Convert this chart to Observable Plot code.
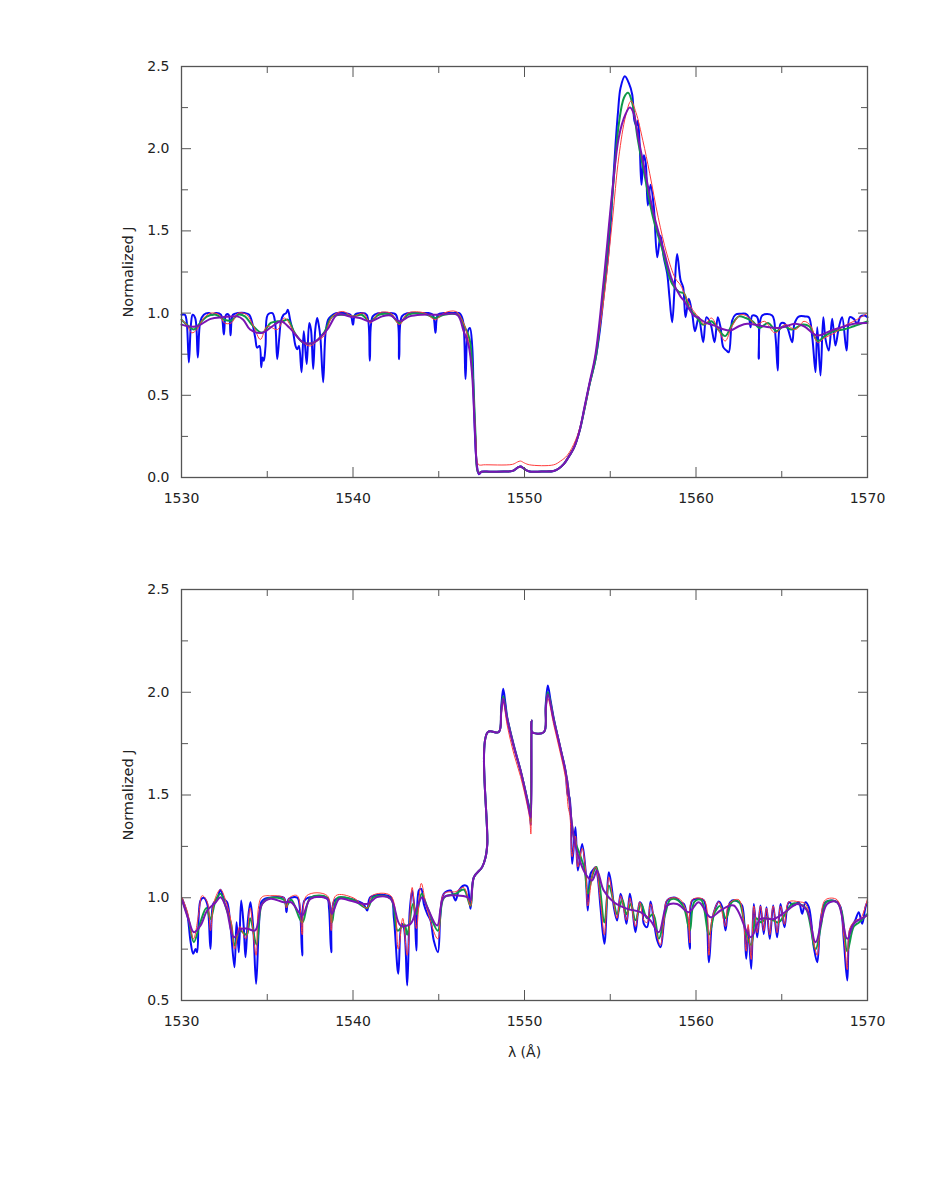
<!DOCTYPE html>
<html><head><meta charset="utf-8">
<script src="https://cdn.jsdelivr.net/npm/d3@7"></script>
<script src="https://cdn.jsdelivr.net/npm/@observablehq/plot@0.6"></script>
<style>
html,body{margin:0;padding:0;background:#fff;}
#chart{position:relative;width:926px;height:1199px;}
#chart svg{display:block;}
</style></head><body><div id="chart"></div>
<script>
// ---------- DATA (wavelength in Å, normalized J) ----------
const xTicksMajor = [1530, 1540, 1550, 1560, 1570];
const xTicksMinor = [1535, 1545, 1555, 1565];
const yTicksTopMajor = [0, 0.5, 1.0, 1.5, 2.0, 2.5];
const yTicksTopMinor = [0.25, 0.75, 1.25, 1.75, 2.25];
const yTicksBotMajor = [0.5, 1.0, 1.5, 2.0, 2.5];
const yTicksBotMinor = [0.75, 1.25, 1.75, 2.25];

const topBlue = [[1530.0,0.99],[1530.2,0.99],[1530.3,0.95],[1530.43,0.70],[1530.55,0.93],[1530.65,0.99],[1530.8,0.97],[1530.95,0.73],[1531.1,0.95],[1531.3,0.99],[1531.6,1.00],[1531.8,0.99],[1532.0,1.00],[1532.3,0.99],[1532.47,0.87],[1532.6,0.99],[1532.75,0.99],[1532.86,0.865],[1533.0,0.99],[1533.3,1.00],[1533.7,1.00],[1533.95,0.99],[1534.1,0.95],[1534.3,0.85],[1534.41,0.79],[1534.55,0.80],[1534.65,0.67],[1534.72,0.73],[1534.8,0.71],[1534.9,0.80],[1535.03,0.99],[1535.3,1.00],[1535.45,0.95],[1535.58,0.72],[1535.7,0.85],[1535.8,0.95],[1535.95,0.99],[1536.1,1.00],[1536.2,1.02],[1536.35,0.95],[1536.5,0.89],[1536.65,0.80],[1536.75,0.78],[1536.85,0.80],[1537.0,0.64],[1537.13,0.89],[1537.3,0.69],[1537.45,0.94],[1537.55,0.90],[1537.68,0.66],[1537.8,0.90],[1537.91,0.97],[1538.0,0.93],[1538.1,0.85],[1538.26,0.58],[1538.4,0.88],[1538.55,0.96],[1538.7,0.98],[1539.0,1.00],[1539.5,1.00],[1539.85,0.99],[1540.0,0.93],[1540.12,0.99],[1540.5,1.00],[1540.8,0.99],[1540.98,0.71],[1541.15,0.98],[1541.5,1.00],[1542.0,1.00],[1542.5,0.99],[1542.69,0.72],[1542.85,0.98],[1543.2,1.00],[1543.8,1.00],[1544.4,1.00],[1544.65,0.99],[1544.81,0.88],[1544.95,0.99],[1545.3,1.00],[1545.8,1.00],[1546.2,1.00],[1546.4,0.96],[1546.56,0.60],[1546.7,0.89],[1546.82,0.91],[1546.95,0.80],[1547.05,0.45],[1547.2,0.10],[1547.34,0.02],[1547.5,0.035],[1548.0,0.035],[1548.8,0.036],[1549.3,0.04],[1549.6,0.06],[1549.77,0.067],[1549.95,0.055],[1550.3,0.036],[1551.0,0.037],[1551.7,0.04],[1552.0,0.055],[1552.3,0.083],[1552.6,0.13],[1552.88,0.18],[1553.2,0.28],[1553.5,0.42],[1553.8,0.57],[1554.14,0.72],[1554.4,0.90],[1554.63,1.12],[1554.85,1.32],[1555.01,1.52],[1555.16,1.78],[1555.31,2.03],[1555.45,2.22],[1555.6,2.37],[1555.85,2.44],[1556.08,2.40],[1556.28,2.33],[1556.41,2.17],[1556.53,2.14],[1556.61,2.17],[1556.72,2.01],[1556.82,1.78],[1556.96,1.96],[1557.07,1.91],[1557.19,1.655],[1557.35,1.78],[1557.54,1.645],[1557.74,1.34],[1557.93,1.47],[1558.12,1.34],[1558.32,1.24],[1558.45,1.10],[1558.61,0.945],[1558.75,1.15],[1558.90,1.36],[1559.10,1.20],[1559.25,1.157],[1559.39,0.975],[1559.58,1.087],[1559.78,0.995],[1559.94,0.89],[1560.16,0.975],[1560.42,0.823],[1560.61,0.975],[1560.85,0.935],[1561.08,0.823],[1561.27,0.975],[1561.43,0.914],[1561.59,0.793],[1561.78,0.772],[1561.91,0.762],[1562.11,0.955],[1562.30,0.99],[1562.6,0.996],[1562.89,0.996],[1563.08,0.975],[1563.18,0.914],[1563.28,0.985],[1563.57,0.975],[1563.66,0.722],[1563.86,0.985],[1564.44,0.985],[1564.64,0.853],[1564.77,0.651],[1564.93,0.935],[1565.12,0.94],[1565.32,0.914],[1565.61,0.823],[1565.74,0.935],[1565.99,0.979],[1566.38,0.979],[1566.58,0.975],[1566.78,0.853],[1566.97,0.641],[1567.07,0.914],[1567.26,0.620],[1567.42,0.975],[1567.55,0.843],[1567.74,0.772],[1567.94,0.965],[1568.13,0.803],[1568.33,0.914],[1568.52,0.975],[1568.78,0.772],[1568.97,0.975],[1569.20,0.965],[1569.40,0.935],[1569.59,0.979],[1569.83,0.985],[1570.0,0.975]];

const topGreen = [[1530.0,0.96],[1530.3,0.93],[1530.72,0.90],[1531.0,0.93],[1531.5,0.98],[1532.0,0.99],[1532.5,0.96],[1532.9,0.955],[1533.3,0.99],[1533.7,0.98],[1534.1,0.93],[1534.7,0.88],[1535.2,0.94],[1535.6,0.95],[1535.9,0.95],[1536.2,0.96],[1536.6,0.88],[1537.1,0.82],[1537.7,0.82],[1538.3,0.88],[1538.8,0.98],[1539.5,0.99],[1540.0,0.98],[1540.5,0.99],[1541.0,0.95],[1541.5,0.99],[1542.2,0.99],[1542.7,0.94],[1543.2,0.99],[1544.2,0.995],[1544.8,0.97],[1545.3,0.99],[1546.1,0.99],[1546.5,0.92],[1546.8,0.84],[1547.0,0.60],[1547.15,0.25],[1547.3,0.03],[1547.5,0.035],[1548.0,0.035],[1548.8,0.036],[1549.3,0.04],[1549.6,0.06],[1549.77,0.067],[1549.95,0.055],[1550.3,0.036],[1551.0,0.037],[1551.7,0.04],[1552.0,0.055],[1552.3,0.083],[1552.6,0.13],[1552.88,0.18],[1553.2,0.28],[1553.5,0.42],[1553.8,0.57],[1554.14,0.72],[1554.62,1.15],[1555.11,1.70],[1555.5,2.15],[1555.8,2.31],[1556.04,2.34],[1556.3,2.27],[1556.6,2.06],[1557.0,1.84],[1557.5,1.58],[1558.0,1.40],[1558.6,1.18],[1559.0,1.13],[1559.3,1.12],[1559.6,1.03],[1560.0,0.98],[1560.4,0.93],[1560.9,0.95],[1561.3,0.90],[1561.7,0.86],[1562.1,0.93],[1562.5,0.98],[1562.9,0.97],[1563.3,0.95],[1563.7,0.91],[1564.2,0.94],[1564.7,0.89],[1565.1,0.92],[1565.6,0.90],[1566.2,0.93],[1566.6,0.92],[1567.1,0.83],[1567.5,0.86],[1568.0,0.89],[1568.6,0.90],[1569.2,0.92],[1570.0,0.95]];

const topRed = [[1530.0,0.96],[1530.3,0.93],[1530.6,0.88],[1530.9,0.90],[1531.3,0.97],[1531.7,1.00],[1532.2,0.99],[1532.5,0.94],[1532.9,0.94],[1533.3,1.00],[1533.8,0.99],[1534.2,0.92],[1534.6,0.84],[1535.0,0.92],[1535.6,0.90],[1536.0,0.97],[1536.6,0.88],[1537.1,0.82],[1537.5,0.80],[1537.9,0.83],[1538.3,0.86],[1538.8,0.98],[1539.4,1.01],[1540.0,0.98],[1540.6,1.00],[1541.0,0.94],[1541.5,1.00],[1542.2,1.00],[1542.7,0.93],[1543.2,1.00],[1544.2,1.00],[1544.8,0.96],[1545.3,1.00],[1546.0,1.01],[1546.4,0.95],[1546.7,0.85],[1546.95,0.62],[1547.15,0.25],[1547.3,0.08],[1547.45,0.075],[1547.6,0.077],[1549.3,0.08],[1549.6,0.095],[1549.77,0.10],[1550.0,0.088],[1550.3,0.077],[1551.7,0.077],[1552.1,0.10],[1552.49,0.134],[1552.97,0.225],[1553.3,0.33],[1553.7,0.52],[1554.14,0.75],[1554.62,1.08],[1555.11,1.55],[1555.5,1.95],[1555.9,2.20],[1556.21,2.29],[1556.5,2.22],[1556.9,2.05],[1557.3,1.85],[1557.8,1.58],[1558.3,1.36],[1558.8,1.21],[1559.1,1.17],[1559.4,1.10],[1559.8,1.02],[1560.2,0.97],[1560.5,0.93],[1560.9,0.97],[1561.3,0.90],[1561.7,0.83],[1562.1,0.92],[1562.6,0.99],[1563.0,0.98],[1563.5,0.93],[1564.0,0.95],[1564.6,0.88],[1565.2,0.93],[1565.8,0.90],[1566.3,0.95],[1566.7,0.92],[1567.1,0.82],[1567.5,0.85],[1568.1,0.88],[1568.6,0.92],[1569.2,0.95],[1570.0,1.00]];

const topPurple = [[1530.0,0.93],[1530.5,0.918],[1530.9,0.92],[1531.7,0.965],[1532.4,0.975],[1533.25,0.98],[1533.6,0.96],[1534.0,0.90],[1534.7,0.88],[1535.3,0.92],[1535.8,0.95],[1536.3,0.91],[1536.8,0.85],[1537.13,0.82],[1537.7,0.82],[1538.5,0.90],[1539.08,0.99],[1539.8,0.98],[1540.4,0.97],[1541.02,0.95],[1541.7,0.98],[1542.2,0.985],[1542.7,0.95],[1543.3,0.98],[1544.0,0.99],[1545.0,0.99],[1546.07,0.99],[1546.45,0.89],[1546.75,0.80],[1546.95,0.62],[1547.1,0.30],[1547.25,0.05],[1547.35,0.022],[1547.5,0.035],[1548.0,0.035],[1548.8,0.036],[1549.3,0.04],[1549.6,0.06],[1549.77,0.067],[1549.95,0.055],[1550.3,0.036],[1551.0,0.037],[1551.7,0.04],[1552.0,0.055],[1552.3,0.083],[1552.6,0.13],[1552.88,0.18],[1553.2,0.28],[1553.5,0.43],[1553.8,0.58],[1554.14,0.75],[1554.62,1.20],[1555.11,1.73],[1555.5,2.07],[1555.89,2.21],[1556.14,2.25],[1556.35,2.22],[1556.66,2.05],[1557.05,1.85],[1557.54,1.60],[1558.12,1.38],[1558.61,1.20],[1559.1,1.10],[1559.29,1.077],[1559.87,0.985],[1560.07,0.975],[1560.6,0.94],[1561.04,0.925],[1561.5,0.905],[1562.01,0.894],[1562.5,0.92],[1562.98,0.935],[1563.9,0.92],[1564.85,0.91],[1565.8,0.935],[1566.3,0.92],[1567.06,0.864],[1567.9,0.894],[1569.2,0.935],[1570.0,0.94]];

const botBlue = [[1530.04,0.995],[1530.33,0.922],[1530.52,0.792],[1530.68,0.727],[1530.82,0.751],[1530.91,0.735],[1531.11,0.987],[1531.30,1.000],[1531.50,0.970],[1531.69,0.751],[1531.85,0.970],[1532.08,0.995],[1532.27,1.039],[1532.47,0.995],[1532.66,0.978],[1532.86,0.857],[1533.09,0.662],[1533.21,0.881],[1533.34,0.735],[1533.48,0.987],[1533.63,0.857],[1533.73,0.711],[1533.87,0.889],[1534.02,0.978],[1534.18,0.857],[1534.35,0.581],[1534.51,0.857],[1534.65,0.978],[1534.84,0.995],[1535.19,1.000],[1535.97,1.000],[1536.12,0.930],[1536.26,0.995],[1536.75,1.000],[1536.9,0.95],[1537.04,0.719],[1537.17,0.987],[1537.52,1.003],[1538.50,0.995],[1538.6,0.95],[1538.73,0.735],[1538.92,0.987],[1539.46,1.000],[1540.05,0.990],[1540.6,0.97],[1540.83,0.938],[1541.02,1.003],[1542.19,1.003],[1542.38,0.905],[1542.64,0.630],[1542.83,0.873],[1542.96,0.857],[1543.16,0.573],[1543.31,0.938],[1543.45,1.035],[1543.59,0.938],[1543.70,0.743],[1543.84,1.035],[1543.98,1.043],[1544.13,0.970],[1544.33,0.922],[1544.52,0.889],[1544.71,0.792],[1544.95,0.735],[1545.10,0.922],[1545.29,1.019],[1545.69,1.035],[1545.98,0.987],[1546.17,1.035],[1546.46,1.060],[1546.66,1.055],[1546.85,0.946],[1547.05,1.100],[1547.53,1.149],[1547.73,1.197],[1547.83,1.262],[1547.86,1.806],[1548.50,1.806],[1548.64,1.927],[1548.76,2.017],[1548.89,1.944],[1548.99,1.879],[1549.38,1.741],[1549.77,1.619],[1550.16,1.481],[1550.31,1.425],[1550.37,1.352],[1550.41,1.862],[1550.45,1.806],[1551.13,1.806],[1551.24,1.944],[1551.36,2.033],[1551.52,1.960],[1551.71,1.871],[1552.10,1.725],[1552.39,1.619],[1552.53,1.498],[1552.62,1.489],[1552.78,1.165],[1552.97,1.343],[1553.11,1.133],[1553.36,1.262],[1553.56,1.133],[1553.69,0.938],[1553.85,1.116],[1554.00,1.136],[1554.14,1.149],[1554.27,1.100],[1554.43,0.954],[1554.66,0.776],[1554.92,1.124],[1555.11,1.035],[1555.21,0.954],[1555.40,0.889],[1555.60,1.019],[1555.79,0.954],[1555.95,0.873],[1556.14,1.019],[1556.28,0.954],[1556.47,0.832],[1556.72,0.978],[1556.86,0.962],[1556.96,0.873],[1557.15,0.857],[1557.35,0.982],[1557.54,0.889],[1557.74,0.792],[1557.93,0.759],[1558.12,0.873],[1558.32,0.987],[1558.80,1.000],[1559.10,0.978],[1559.29,0.970],[1559.49,0.905],[1559.64,0.751],[1559.78,0.987],[1560.16,0.995],[1560.46,0.987],[1560.75,0.686],[1560.94,0.889],[1561.14,0.954],[1561.33,0.982],[1561.53,0.954],[1561.72,0.841],[1561.91,0.962],[1562.11,0.987],[1562.30,0.987],[1562.50,0.978],[1562.69,0.962],[1562.93,0.703],[1563.04,0.857],[1563.22,0.654],[1563.37,0.970],[1563.57,0.808],[1563.76,0.962],[1563.95,0.824],[1564.11,0.954],[1564.30,0.800],[1564.50,0.962],[1564.73,0.808],[1564.93,0.970],[1565.16,0.857],[1565.41,0.978],[1565.70,0.962],[1565.99,0.978],[1566.19,0.922],[1566.38,0.978],[1566.58,0.954],[1566.87,0.759],[1567.07,0.686],[1567.26,0.889],[1567.55,0.978],[1567.94,0.987],[1568.23,0.978],[1568.43,0.954],[1568.62,0.792],[1568.82,0.597],[1568.97,0.841],[1569.17,0.873],[1569.28,0.889],[1569.49,0.930],[1569.69,0.873],[1569.88,0.954],[1569.98,0.978]];

const botGreen = [[1530.04,0.99],[1530.4,0.90],[1530.72,0.784],[1531.1,0.88],[1531.45,0.95],[1531.69,0.897],[1532.0,0.99],[1532.27,1.02],[1532.6,0.95],[1532.9,0.87],[1533.1,0.768],[1533.4,0.84],[1533.8,0.82],[1534.0,0.90],[1534.38,0.772],[1534.7,0.97],[1535.2,1.00],[1535.97,0.99],[1536.12,0.96],[1536.4,0.99],[1537.04,0.88],[1537.52,1.00],[1538.5,1.00],[1538.77,0.88],[1539.1,1.00],[1540.0,0.99],[1540.83,0.95],[1541.2,1.003],[1542.2,0.995],[1542.6,0.84],[1543.0,0.87],[1543.16,0.82],[1543.5,0.97],[1543.7,0.92],[1544.0,1.02],[1544.35,0.95],[1544.95,0.84],[1545.3,1.00],[1546.0,1.02],[1546.46,1.04],[1546.85,0.96],[1547.05,1.100],[1547.53,1.149],[1547.73,1.197],[1547.83,1.262],[1547.86,1.806],[1548.50,1.806],[1548.64,1.91],[1548.76,1.98],[1548.99,1.875],[1549.38,1.737],[1549.77,1.619],[1550.16,1.478],[1550.31,1.415],[1550.37,1.37],[1550.41,1.862],[1550.45,1.806],[1551.13,1.806],[1551.24,1.93],[1551.36,2.00],[1551.71,1.866],[1552.10,1.725],[1552.49,1.57],[1552.87,1.30],[1553.27,1.20],[1553.5,1.14],[1553.69,1.02],[1554.0,1.12],[1554.2,1.15],[1554.66,0.88],[1554.92,1.06],[1555.2,0.98],[1555.4,0.92],[1555.7,0.99],[1555.95,0.92],[1556.2,0.97],[1556.47,0.89],[1556.8,0.97],[1557.15,0.90],[1557.5,0.92],[1557.83,0.80],[1558.2,0.92],[1558.5,0.99],[1558.9,0.99],[1559.3,0.95],[1559.64,0.84],[1559.9,0.98],[1560.3,0.99],[1560.75,0.82],[1561.1,0.93],[1561.4,0.96],[1561.75,0.90],[1562.1,0.98],[1562.5,0.98],[1562.93,0.82],[1563.22,0.77],[1563.5,0.90],[1563.8,0.88],[1564.1,0.90],[1564.5,0.89],[1564.8,0.88],[1565.2,0.92],[1565.6,0.97],[1566.0,0.97],[1566.4,0.95],[1566.97,0.75],[1567.3,0.87],[1567.6,0.98],[1568.2,0.98],[1568.5,0.93],[1568.82,0.74],[1569.2,0.86],[1569.5,0.88],[1569.98,0.92]];

const botRed = [[1530.04,1.00],[1530.35,0.93],[1530.7,0.80],[1531.0,0.92],[1531.2,1.01],[1531.5,0.98],[1531.69,0.84],[1531.9,0.98],[1532.27,1.04],[1532.6,0.98],[1532.9,0.88],[1533.1,0.75],[1533.4,0.86],[1533.75,0.80],[1534.0,0.95],[1534.35,0.72],[1534.65,1.00],[1535.2,1.01],[1535.97,1.00],[1536.12,0.95],[1536.3,1.00],[1536.75,1.01],[1537.04,0.82],[1537.3,1.01],[1538.5,1.01],[1538.73,0.84],[1539.0,1.01],[1540.0,1.00],[1540.83,0.95],[1541.1,1.01],[1542.2,1.01],[1542.64,0.75],[1542.9,0.90],[1543.16,0.72],[1543.45,1.05],[1543.7,0.85],[1543.98,1.07],[1544.3,0.95],[1544.95,0.80],[1545.3,1.02],[1546.0,1.03],[1546.46,1.05],[1546.85,0.96],[1547.05,1.100],[1547.53,1.149],[1547.73,1.197],[1547.83,1.262],[1547.86,1.806],[1548.50,1.806],[1548.64,1.89],[1548.76,1.95],[1548.99,1.84],[1549.38,1.70],[1549.77,1.59],[1550.16,1.45],[1550.31,1.38],[1550.37,1.31],[1550.41,1.862],[1550.45,1.806],[1551.13,1.806],[1551.24,1.91],[1551.36,1.97],[1551.71,1.84],[1552.10,1.70],[1552.4,1.58],[1552.55,1.44],[1552.65,1.40],[1552.78,1.20],[1552.97,1.30],[1553.11,1.15],[1553.36,1.24],[1553.56,1.14],[1553.69,0.96],[1554.0,1.13],[1554.14,1.15],[1554.43,0.98],[1554.66,0.82],[1554.92,1.10],[1555.2,0.97],[1555.4,0.90],[1555.6,1.01],[1555.95,0.89],[1556.14,1.00],[1556.47,0.86],[1556.72,0.98],[1556.96,0.89],[1557.15,0.88],[1557.35,0.97],[1557.74,0.81],[1557.93,0.77],[1558.12,0.88],[1558.32,0.99],[1558.8,1.00],[1559.1,0.99],[1559.49,0.92],[1559.64,0.78],[1559.78,0.99],[1560.46,0.99],[1560.75,0.72],[1560.94,0.90],[1561.33,0.98],[1561.72,0.86],[1561.91,0.97],[1562.5,0.99],[1562.93,0.74],[1563.04,0.87],[1563.22,0.70],[1563.37,0.96],[1563.57,0.83],[1563.76,0.96],[1563.95,0.84],[1564.11,0.95],[1564.3,0.82],[1564.5,0.96],[1564.73,0.83],[1564.93,0.96],[1565.16,0.87],[1565.41,0.98],[1566.0,0.98],[1566.38,0.97],[1566.87,0.78],[1567.07,0.72],[1567.26,0.89],[1567.55,0.99],[1568.23,0.99],[1568.62,0.81],[1568.82,0.65],[1568.97,0.85],[1569.3,0.89],[1569.6,0.90],[1569.98,0.99]];

const botPurple = [[1530.04,0.987],[1530.43,0.889],[1530.72,0.832],[1531.11,0.865],[1531.5,0.938],[1532.0,0.978],[1532.27,1.003],[1532.6,0.954],[1533.05,0.808],[1533.5,0.849],[1533.85,0.849],[1534.3,0.841],[1534.7,0.970],[1535.2,0.995],[1535.97,0.978],[1536.4,0.978],[1537.04,0.914],[1537.52,0.995],[1538.5,0.995],[1538.77,0.922],[1539.2,0.995],[1539.8,0.987],[1540.83,0.970],[1541.4,1.003],[1542.19,0.995],[1542.77,0.865],[1543.35,0.873],[1543.7,0.946],[1544.03,1.003],[1544.33,0.954],[1544.91,0.865],[1545.3,1.003],[1546.07,1.011],[1546.66,1.003],[1546.85,0.987],[1547.05,1.100],[1547.53,1.149],[1547.73,1.197],[1547.83,1.262],[1547.86,1.806],[1548.50,1.806],[1548.64,1.90],[1548.76,1.97],[1548.99,1.87],[1549.38,1.733],[1549.77,1.619],[1550.16,1.473],[1550.31,1.408],[1550.37,1.39],[1550.41,1.862],[1550.45,1.806],[1551.13,1.806],[1551.24,1.92],[1551.36,1.99],[1551.71,1.862],[1552.10,1.725],[1552.49,1.57],[1552.87,1.295],[1553.27,1.17],[1553.62,1.108],[1553.94,1.084],[1554.23,1.132],[1554.62,1.035],[1555.21,0.978],[1555.99,0.946],[1556.76,0.930],[1557.35,0.889],[1557.83,0.832],[1558.32,0.962],[1558.90,0.970],[1559.58,0.930],[1560.16,0.978],[1560.85,0.905],[1561.43,0.938],[1562.20,0.962],[1563.2,0.808],[1563.76,0.897],[1564.54,0.897],[1565.32,0.938],[1565.90,0.970],[1566.48,0.938],[1566.97,0.784],[1567.65,0.970],[1568.23,0.978],[1568.82,0.800],[1569.20,0.873],[1569.78,0.905],[1569.98,0.914]];

const seriesNames = ["blue", "green", "red", "purple"];
const seriesColors = ["#0a0af5", "#0f9a48", "#ff3b3b", "#7a14b4"];
const seriesWidths = [2, 2, 1, 2];

// ---------- DRAW ----------
const axisColor = "#555";
const textColor = "#222";
const font = "'DejaVu Sans', Arial, sans-serif";

function toRows(pairs) { return pairs.map(([x, y]) => ({x, y})); }

function tickMarks(yMajor, yMinor) {
  const common = {stroke: axisColor, fill: "none", label: null, strokeWidth: 1};
  return [
    Plot.axisX(xTicksMajor, {...common, anchor: "bottom", tickSize: -10}),
    Plot.axisX(xTicksMinor, {...common, anchor: "bottom", tickSize: -6}),
    Plot.axisX(xTicksMajor, {...common, anchor: "top", tickSize: -10}),
    Plot.axisX(xTicksMinor, {...common, anchor: "top", tickSize: -6}),
    Plot.axisY(yMajor, {...common, anchor: "left", tickSize: -10}),
    Plot.axisY(yMinor, {...common, anchor: "left", tickSize: -7}),
    Plot.axisY(yMajor, {...common, anchor: "right", tickSize: -10}),
    Plot.axisY(yMinor, {...common, anchor: "right", tickSize: -7})
  ];
}

function panel({series, yDomain, yMajor, yMinor, height, marginTop, marginBottom, xLabel}) {
  const lines = series.map((pairs, i) => Plot.line(toRows(pairs), {
    x: "x", y: "y", stroke: seriesColors[i], strokeWidth: seriesWidths[i],
    curve: "catmull-rom", strokeLinejoin: "round"
  }));
  const marks = [
    ...lines,
    Plot.frame({stroke: axisColor, strokeWidth: 1.3}),
    ...tickMarks(yMajor, yMinor),
    Plot.axisX(xTicksMajor, {anchor: "bottom", tickSize: 0, tickPadding: 16, label: null, fill: textColor, fontSize: 14, tickFormat: d => String(d)}),
    Plot.axisY(yMajor, {anchor: "left", tickSize: 0, tickPadding: 12, label: null, fill: textColor, fontSize: 14, tickFormat: d3.format(".1f")}),
    Plot.text(["Normalized J"], {text: d => d, frameAnchor: "left", dx: -53, rotate: -90, textAnchor: "middle", lineAnchor: "middle", fill: textColor, fontSize: 14.5})
  ];
  if (xLabel) marks.push(Plot.text([xLabel], {text: d => d, frameAnchor: "bottom", dy: 52, textAnchor: "middle", lineAnchor: "middle", fill: textColor, fontSize: 14}));
  return Plot.plot({
    width: 926, height,
    marginLeft: 181, marginRight: 59, marginTop, marginBottom,
    x: {domain: [1530, 1570]},
    y: {domain: yDomain},
    style: {fontFamily: font, background: "#fff", overflow: "visible"},
    marks
  });
}

const chart = document.getElementById("chart");
chart.appendChild(panel({
  series: [topBlue, topGreen, topRed, topPurple],
  yDomain: [0, 2.5], yMajor: yTicksTopMajor, yMinor: yTicksTopMinor,
  height: 540, marginTop: 66, marginBottom: 63
}));
chart.appendChild(panel({
  series: [botBlue, botGreen, botRed, botPurple],
  yDomain: [0.5, 2.5], yMajor: yTicksBotMajor, yMinor: yTicksBotMinor,
  height: 560, marginTop: 49, marginBottom: 100, xLabel: "λ (Å)"
}));
</script></body></html>
